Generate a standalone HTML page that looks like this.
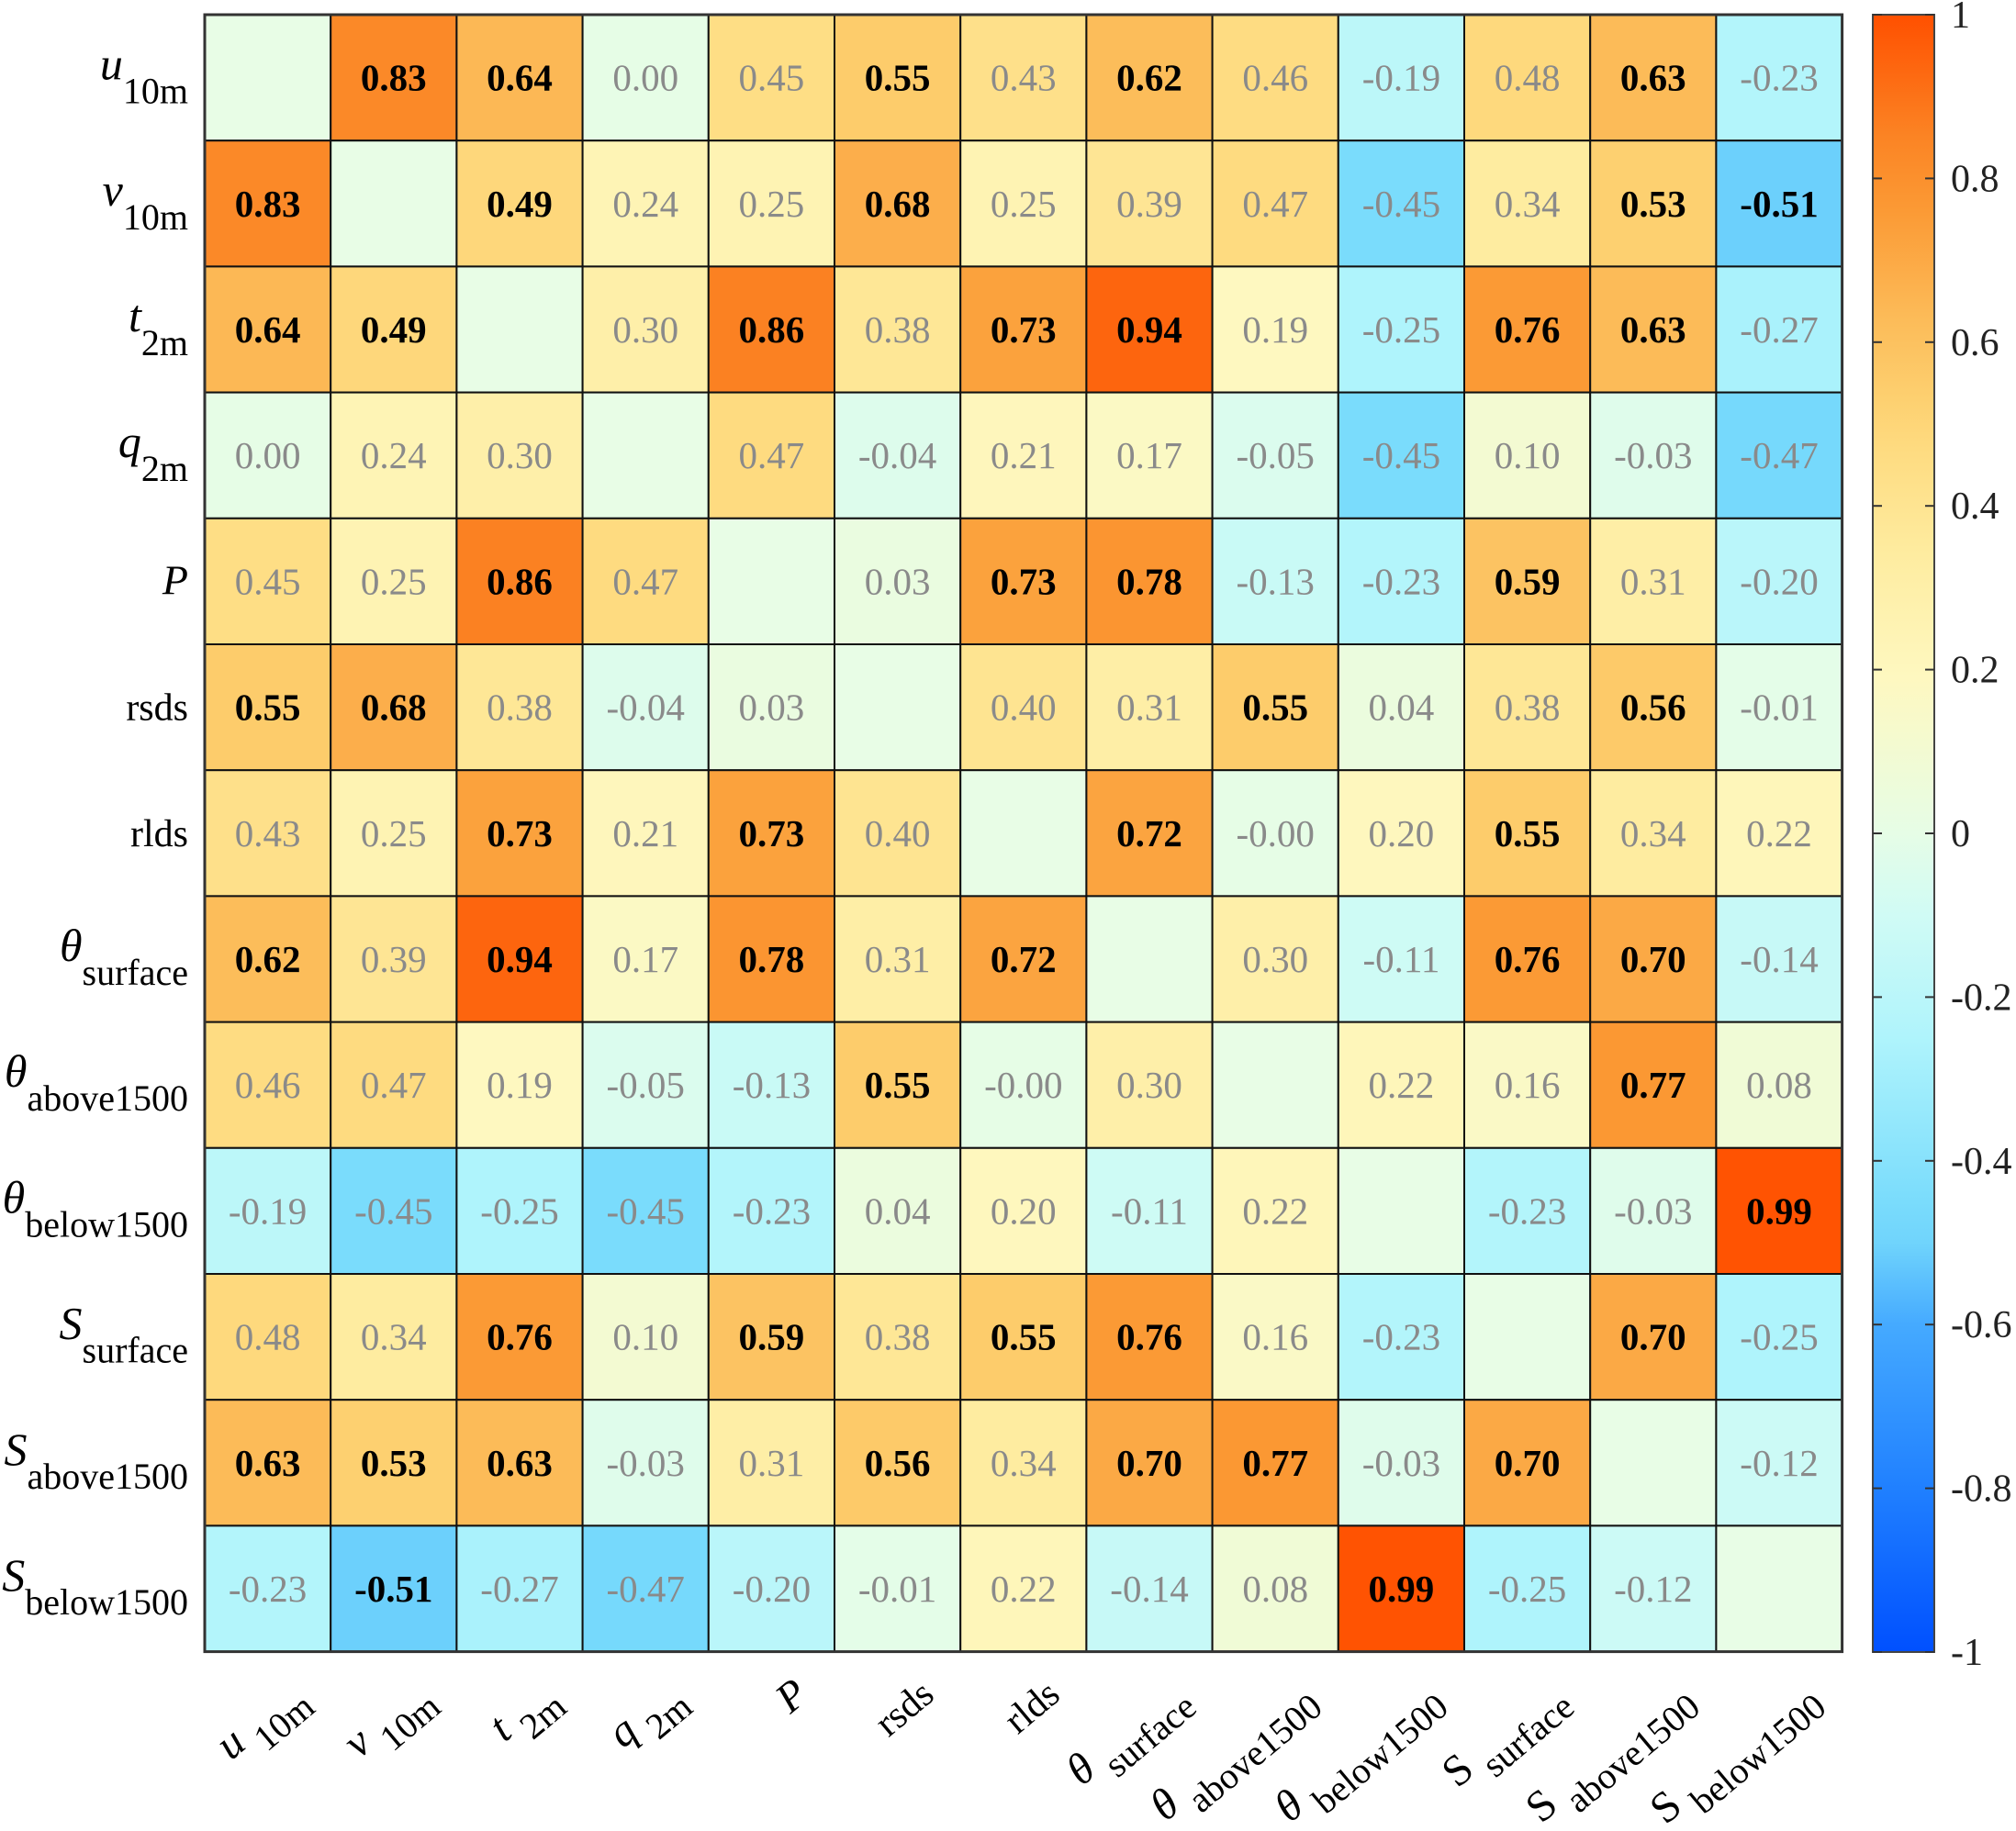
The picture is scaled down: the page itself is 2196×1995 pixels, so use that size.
<!DOCTYPE html>
<html><head><meta charset="utf-8"><style>
html,body{margin:0;padding:0;background:#fff;}
svg{display:block;font-family:"Liberation Serif",serif;}
</style></head><body>
<svg id="s" width="2196" height="1995" xmlns="http://www.w3.org/2000/svg">
<defs><linearGradient id="cb" x1="0" y1="1" x2="0" y2="0">
<stop offset="0" stop-color="#0050ff"/><stop offset="0.1" stop-color="#2080ff"/><stop offset="0.2" stop-color="#45aaff"/><stop offset="0.25" stop-color="#70d4fc"/><stop offset="0.275" stop-color="#7adcfc"/><stop offset="0.375" stop-color="#aff4fc"/><stop offset="0.45" stop-color="#d0fbf5"/><stop offset="0.5" stop-color="#e6fde6"/><stop offset="0.595" stop-color="#fef8c0"/><stop offset="0.67" stop-color="#feeca0"/><stop offset="0.735" stop-color="#fedb80"/><stop offset="0.765" stop-color="#fdd070"/><stop offset="0.815" stop-color="#fcbb58"/><stop offset="0.88" stop-color="#fb9a35"/><stop offset="0.925" stop-color="#fb8424"/><stop offset="1" stop-color="#ff5000"/>
</linearGradient></defs>
</svg>
<script>
const D=[
[null,0.83,0.64,0.00,0.45,0.55,0.43,0.62,0.46,-0.19,0.48,0.63,-0.23],
[0.83,null,0.49,0.24,0.25,0.68,0.25,0.39,0.47,-0.45,0.34,0.53,-0.51],
[0.64,0.49,null,0.30,0.86,0.38,0.73,0.94,0.19,-0.25,0.76,0.63,-0.27],
[0.00,0.24,0.30,null,0.47,-0.04,0.21,0.17,-0.05,-0.45,0.10,-0.03,-0.47],
[0.45,0.25,0.86,0.47,null,0.03,0.73,0.78,-0.13,-0.23,0.59,0.31,-0.20],
[0.55,0.68,0.38,-0.04,0.03,null,0.40,0.31,0.55,0.04,0.38,0.56,-0.01],
[0.43,0.25,0.73,0.21,0.73,0.40,null,0.72,-0.001,0.20,0.55,0.34,0.22],
[0.62,0.39,0.94,0.17,0.78,0.31,0.72,null,0.30,-0.11,0.76,0.70,-0.14],
[0.46,0.47,0.19,-0.05,-0.13,0.55,-0.001,0.30,null,0.22,0.16,0.77,0.08],
[-0.19,-0.45,-0.25,-0.45,-0.23,0.04,0.20,-0.11,0.22,null,-0.23,-0.03,0.99],
[0.48,0.34,0.76,0.10,0.59,0.38,0.55,0.76,0.16,-0.23,null,0.70,-0.25],
[0.63,0.53,0.63,-0.03,0.31,0.56,0.34,0.70,0.77,-0.03,0.70,null,-0.12],
[-0.23,-0.51,-0.27,-0.47,-0.20,-0.01,0.22,-0.14,0.08,0.99,-0.25,-0.12,null]];
const stops=[[-1,"#0050ff"],[-0.8,"#2080ff"],[-0.6,"#45aaff"],[-0.5,"#70d4fc"],[-0.45,"#7adcfc"],[-0.25,"#aff4fc"],[-0.1,"#d0fbf5"],[0,"#e6fde6"],[0.19,"#fef8c0"],[0.34,"#feeca0"],[0.47,"#fedb80"],[0.53,"#fdd070"],[0.63,"#fcbb58"],[0.76,"#fb9a35"],[0.85,"#fb8424"],[1,"#ff5000"]];
function h2r(h){return [1,3,5].map(i=>parseInt(h.substr(i,2),16));}
function col(v){for(let i=0;i<stops.length-1;i++){const a=stops[i],b=stops[i+1];if(v<=b[0]){const t=(v-a[0])/(b[0]-a[0]);const A=h2r(a[1]),B=h2r(b[1]);return "rgb("+A.map((x,k)=>Math.round(x+(B[k]-x)*t)).join(",")+")";}}return stops[stops.length-1][1];}
const L=223,T=16,C=137.2,N=13;let s="";
for(let r=0;r<N;r++)for(let c=0;c<N;c++){const v=D[r][c];const x=L+c*C,y=T+r*C;
s+=`<rect x="${x}" y="${y}" width="${C}" height="${C}" fill="${v===null?'#e8fde6':col(v)}" stroke="#111" stroke-width="2"/>`;
if(v!==null){const b=Math.abs(v)>=0.485;let t=(v<0&&v>-0.005)?"-0.00":v.toFixed(2);
s+=`<text x="${x+C/2}" y="${y+C/2+14}" text-anchor="middle" font-size="41" ${b?'font-weight="bold" fill="#000"':'fill="#8a8a8a"'}>${t}</text>`;}}
s+=`<rect x="${L}" y="${T}" width="${C*N}" height="${C*N}" fill="none" stroke="#333" stroke-width="3"/>`;
const labs=[["u","10m",1],["v","10m",1],["t","2m",1],["q","2m",1],["P","",1],["rsds","",0],["rlds","",0],["θ","surface",1],["θ","above1500",1],["θ","below1500",1],["S","surface",1],["S","above1500",1],["S","below1500",1]];
labs.forEach((l,i)=>{const cy=T+i*C+C/2;
if(l[1]){s+=`<text x="205" y="${cy+2}" text-anchor="end" font-size="40"><tspan font-style="italic" font-size="50">${l[0]}</tspan><tspan font-size="40" dy="26">${l[1]}</tspan></text>`;}
else s+=`<text x="205" y="${cy+14}" text-anchor="end" ${l[2]?'font-style="italic" font-size="46"':'font-size="42"'}>${l[0]}</text>`;
const cx=L+i*C+C/2+42,yy=1850;
if(l[1]) s+=`<text transform="translate(${cx},${yy}) rotate(-40)" text-anchor="end" font-size="40"><tspan font-size="48" ${l[0]=="S"?'':'font-style="italic"'}>${l[0]} </tspan><tspan dy="18">${l[1]}</tspan></text>`;
else s+=`<text transform="translate(${cx},${yy}) rotate(-40)" text-anchor="end" ${l[2]?'font-style="italic" font-size="46"':'font-size="42"'}>${l[0]}</text>`;});
const cbx=2040,cbw=67,cbt=T,cbb=1800;
s+=`<rect x="${cbx}" y="${cbt}" width="${cbw}" height="${cbb-cbt}" fill="url(#cb)" stroke="#444" stroke-width="2"/>`;
for(let k=0;k<=10;k++){const v=1-k*0.2;const y=cbt+(cbb-cbt)*k/10;
s+=`<line x1="${cbx+cbw-10}" x2="${cbx+cbw}" y1="${y}" y2="${y}" stroke="#333" stroke-width="2"/><line x1="${cbx}" x2="${cbx+10}" y1="${y}" y2="${y}" stroke="#333" stroke-width="2"/>`;
let t=Math.abs(v)<1e-9?"0":(Math.abs(Math.abs(v)-1)<1e-9?(v>0?"1":"-1"):v.toFixed(1));
s+=`<text x="2125" y="${y+14}" font-size="42" fill="#222">${t}</text>`;}
document.getElementById("s").insertAdjacentHTML("beforeend",s);
</script>
</body></html>
